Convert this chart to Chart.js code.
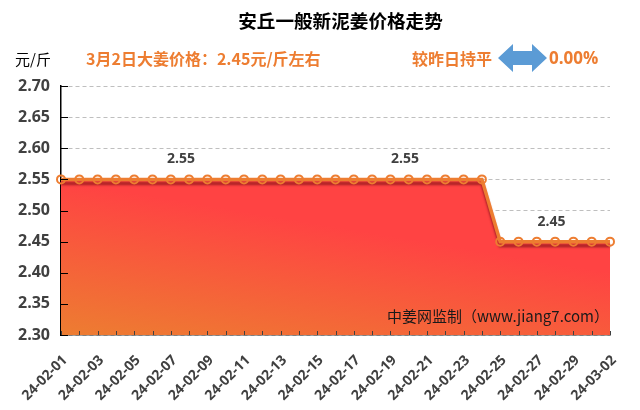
<!DOCTYPE html>
<html>
<head>
<meta charset="utf-8">
<style>
  body { margin: 0; background: #fff; }
  canvas { display: block; }
</style>
<script src="https://cdn.jsdelivr.net/npm/chart.js@4"></script>
</head>
<body>
<canvas id="priceChart" width="640" height="410"></canvas>
<script>
const dates = [
  "24-02-01", "24-02-02", "24-02-03", "24-02-04", "24-02-05", "24-02-06", "24-02-07", "24-02-08",
  "24-02-09", "24-02-10", "24-02-11", "24-02-12", "24-02-13", "24-02-14", "24-02-15", "24-02-16",
  "24-02-17", "24-02-18", "24-02-19", "24-02-20", "24-02-21", "24-02-22", "24-02-23", "24-02-24",
  "24-02-25", "24-02-26", "24-02-27", "24-02-28", "24-02-29", "24-03-01", "24-03-02"
];
const prices = [
  2.55, 2.55, 2.55, 2.55, 2.55, 2.55, 2.55, 2.55,
  2.55, 2.55, 2.55, 2.55, 2.55, 2.55, 2.55, 2.55,
  2.55, 2.55, 2.55, 2.55, 2.55, 2.55, 2.55, 2.55,
  2.45, 2.45, 2.45, 2.45, 2.45, 2.45, 2.45
];
const priceNotes = ["2.55", "2.55", "2.45"];
const priceNoteSlots = [6.56, 18.8, 26.8];
const priceNoteValues = [2.55, 2.55, 2.45];

const titleText = "安丘一般新泥姜价格走势";
const unitText = "元/斤";
const priceText = "3月2日大姜价格：2.45元/斤左右";
const changeText = "较昨日持平";
const percentText = "0.00%";
const sourceText = "中姜网监制（www.jiang7.com）";

const ORANGE = "#ED7D31";
const CJK = '"Noto Sans CJK SC", sans-serif';

// dark band under the line, only for the line dataset (index 1)
const lineShadow = {
  id: "lineShadow",
  beforeDatasetDraw(chart, args) {
    if (args.index !== 1) return;
    const ctx = chart.ctx;
    ctx.save();
    ctx.shadowColor = "rgba(165, 30, 35, 0.85)";
    ctx.shadowBlur = 2;
    ctx.shadowOffsetY = 4;
  },
  afterDatasetDraw(chart, args) {
    if (args.index === 1) chart.ctx.restore();
  }
};

// axis ticks point into the plot in the original, so they go on top of the fill
const innerTicks = {
  id: "innerTicks",
  afterDatasetsDraw(chart) {
    const ctx = chart.ctx;
    const area = chart.chartArea;
    const x = chart.scales.x;
    const y = chart.scales.y;
    ctx.save();
    ctx.lineWidth = 1;
    ctx.strokeStyle = "#000";
    y.ticks.forEach((t, i) => {
      const py = Math.round(y.getPixelForTick(i)) + 0.5;
      ctx.beginPath();
      ctx.moveTo(area.left, py);
      ctx.lineTo(area.left + 7, py);
      ctx.stroke();
    });
    ctx.strokeStyle = "#404040";
    x.ticks.forEach((t, i) => {
      const px = Math.round(x.getPixelForTick(i)) + 0.5;
      ctx.beginPath();
      ctx.moveTo(px, area.bottom);
      ctx.lineTo(px, area.bottom - 4);
      ctx.stroke();
    });
    ctx.restore();
  }
};

const headerText = {
  id: "headerText",
  afterDraw(chart) {
    const ctx = chart.ctx;
    const x = chart.scales.x;
    const y = chart.scales.y;
    ctx.save();
    ctx.textBaseline = "middle";

    ctx.fillStyle = "#000";
    ctx.textAlign = "center";
    ctx.font = "bold 18.6px " + CJK;
    ctx.fillText(titleText, 340.5, 21);

    ctx.textAlign = "left";
    ctx.font = "15px " + CJK;
    ctx.fillText(unitText, 15, 59);

    ctx.fillStyle = ORANGE;
    ctx.font = "bold 16px " + CJK;
    ctx.fillText(priceText, 86, 59);
    ctx.fillText(changeText, 412, 59);
    ctx.font = 'bold 17px "Open Sans", sans-serif';
    ctx.fillText(percentText, 549, 59);

    // double arrow between the two texts
    ctx.fillStyle = "#5B9BD5";
    ctx.beginPath();
    ctx.moveTo(498, 58);
    ctx.lineTo(513, 44);
    ctx.lineTo(513, 51);
    ctx.lineTo(532, 51);
    ctx.lineTo(532, 44);
    ctx.lineTo(547, 58);
    ctx.lineTo(532, 72);
    ctx.lineTo(532, 65);
    ctx.lineTo(513, 65);
    ctx.lineTo(513, 72);
    ctx.closePath();
    ctx.fill();

    ctx.fillStyle = "#404040";
    ctx.textAlign = "center";
    ctx.font = 'bold 14px "Open Sans", sans-serif';
    priceNotes.forEach((note, i) => {
      ctx.fillText(note, x.getPixelForValue(priceNoteSlots[i]), y.getPixelForValue(priceNoteValues[i]) - 20);
    });

    ctx.fillStyle = "#1a1a1a";
    ctx.textAlign = "left";
    ctx.font = "15px " + CJK;
    ctx.fillText(sourceText, 387, 316);
    ctx.restore();
  }
};

new Chart(document.getElementById("priceChart"), {
  type: "line",
  plugins: [lineShadow, innerTicks, headerText],
  data: {
    labels: dates,
    datasets: [{
      // hollow markers, kept apart so the shadow does not touch them
      data: prices,
      showLine: false,
      fill: false,
      pointRadius: 4,
      pointBorderWidth: 2,
      pointBorderColor: ORANGE,
      pointBackgroundColor: "transparent",
      clip: false
    }, {
      data: prices,
      borderColor: ORANGE,
      borderWidth: 3.5,
      tension: 0,
      fill: "origin",
      backgroundColor(context) {
        const area = context.chart.chartArea;
        if (!area) return "#FF4040";
        const g = context.chart.ctx.createLinearGradient(area.left, area.bottom, area.left + 25, area.bottom - 150);
        g.addColorStop(0, "#ED7D31");
        g.addColorStop(1, "#FF4343");
        return g;
      },
      pointRadius: 0,
      clip: false
    }]
  },
  options: {
    responsive: false,
    animation: false,
    layout: { padding: { left: 0, top: 86, right: 30, bottom: 0 } },
    plugins: {
      legend: { display: false },
      title: { display: false },
      tooltip: { enabled: false }
    },
    scales: {
      x: {
        grid: { display: false, drawTicks: false },
        border: { color: "#404040", width: 1.5 },
        afterFit(scale) { scale.height = 75; scale.paddingLeft = 0; scale.paddingRight = 0; },
        ticks: {
          autoSkip: false,
          minRotation: 45,
          maxRotation: 45,
          padding: 17,
          labelOffset: 4,
          color: "#404040",
          font: { family: '"Open Sans", sans-serif', size: 14, weight: "bold" },
          callback(value, index) { return index % 2 ? "" : dates[index]; }
        }
      },
      y: {
        min: 2.3,
        max: 2.7,
        grid: { color: "#BFBFBF", drawTicks: false },
        border: { color: "#000", width: 1.5, dash: [4, 3] },
        afterFit(scale) { scale.width = 61; },
        ticks: {
          stepSize: 0.05,
          padding: 11,
          color: "#404040",
          font: { family: '"Open Sans", sans-serif', size: 16, weight: "bold" },
          callback(value) { return value.toFixed(2); }
        }
      }
    }
  }
});
</script>
</body>
</html>
